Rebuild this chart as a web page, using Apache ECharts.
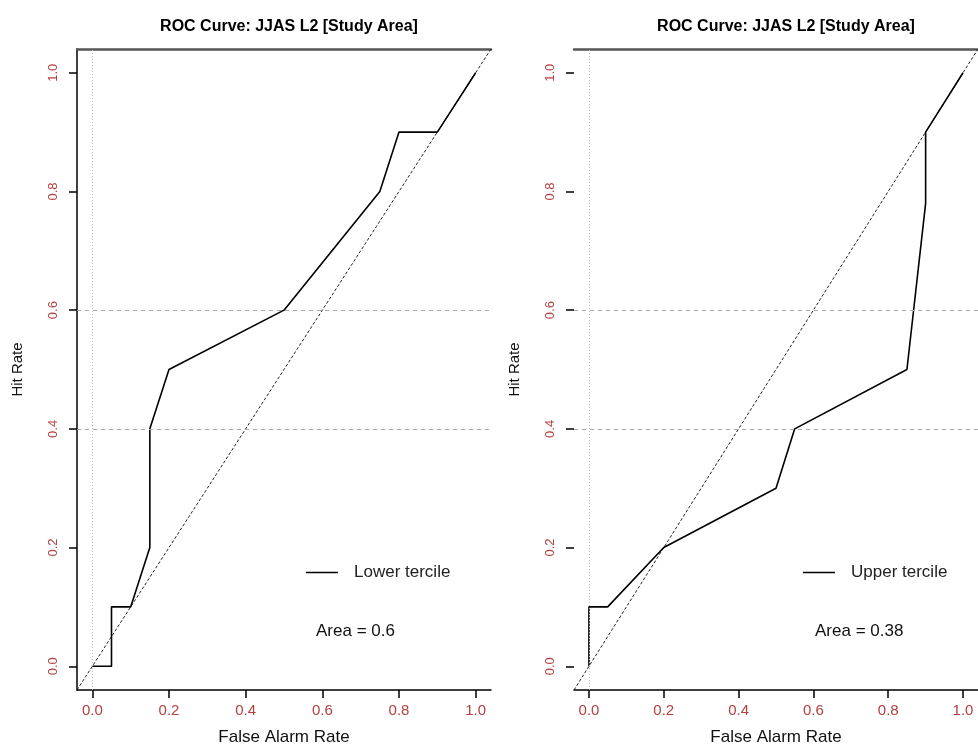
<!DOCTYPE html>
<html>
<head>
<meta charset="utf-8">
<script src="https://cdn.jsdelivr.net/npm/echarts@6/dist/echarts.min.js"></script>
<style>
html,body{margin:0;padding:0;background:#fff;}
#chart{width:978px;height:751px;}
</style>
</head>
<body>
<div id="chart"></div>
<script>
// ---- data ----
const chartTitle = 'ROC Curve: JJAS L2 [Study Area]';
const xName = 'False Alarm Rate';
const yName = 'Hit Rate';
const tickValues = [0, 0.2, 0.4, 0.6, 0.8, 1.0];
const tickLabels = ['0.0', '0.2', '0.4', '0.6', '0.8', '1.0'];
const axisRange = [-0.04, 1.04];
const diagonal = [-0.04, 1.04];
const refLinesX = [0];
const refLinesY = [0.4, 0.6];

const lowerName = 'Lower tercile';
const lowerFAR = [0, 0.05, 0.05, 0.1, 0.15, 0.15, 0.2, 0.5, 0.75, 0.8, 0.9, 1.0];
const lowerHit = [0, 0, 0.1, 0.1, 0.2, 0.4, 0.5, 0.6, 0.8, 0.9, 0.9, 1.0];
const lowerArea = 0.6;

const upperName = 'Upper tercile';
const upperFAR = [0, 0, 0.05, 0.2, 0.5, 0.55, 0.85, 0.9, 0.9, 1.0];
const upperHit = [0, 0.1, 0.1, 0.2, 0.3, 0.4, 0.5, 0.78, 0.9, 1.0];
const upperArea = 0.38;

// ---- chart ----
const FONT = "'Liberation Sans', Arial, sans-serif";
const RED = '#B5403F';
const chart = echarts.init(document.getElementById('chart'), null, {renderer: 'canvas'});
const fmt = v => { const i = tickValues.findIndex(t => Math.abs(t - v) < 1e-9); return i >= 0 ? tickLabels[i] : ''; };
const zip = (a, b) => a.map((v, i) => [v, b[i]]);

function xAxisFor(g) {
  return {
    type: 'value', gridIndex: g, min: axisRange[0], max: axisRange[1], position: 'bottom',
    name: xName, nameLocation: 'middle', nameGap: 39,
    nameTextStyle: {fontFamily: FONT, fontSize: 17, color: '#111'},
    axisLine: {show: true, onZero: false, lineStyle: {color: '#000', width: 1.5}},
    axisTick: {show: true, length: 8, customValues: tickValues, lineStyle: {color: '#000', width: 1.5}},
    axisLabel: {show: true, customValues: tickValues, formatter: fmt, margin: 13,
      fontFamily: FONT, fontSize: 15, color: RED},
    splitLine: {show: false}
  };
}
function topAxisFor(g) {
  return {
    type: 'value', gridIndex: g, min: axisRange[0], max: axisRange[1], position: 'top',
    axisLine: {show: true, onZero: false, lineStyle: {color: '#555', width: 2.5}},
    axisTick: {show: false}, axisLabel: {show: false}, splitLine: {show: false}
  };
}
function yAxisFor(g, showLine) {
  return {
    type: 'value', gridIndex: g, min: axisRange[0], max: axisRange[1],
    name: yName, nameLocation: 'middle', nameGap: 52,
    nameTextStyle: {fontFamily: FONT, fontSize: 15, color: '#111'},
    axisLine: {show: showLine, onZero: false, lineStyle: {color: '#000', width: 1.5}},
    axisTick: {show: true, length: 8, customValues: tickValues, lineStyle: {color: '#000', width: 1.5}},
    axisLabel: {show: true, customValues: tickValues, formatter: fmt, rotate: 90, margin: 17,
      fontFamily: FONT, fontSize: 13, color: RED},
    splitLine: {show: false}
  };
}
function diagSeries(xi, yi) {
  return {
    type: 'line', name: 'diag', xAxisIndex: xi, yAxisIndex: yi, silent: true, z: 1,
    symbol: 'none', data: [[diagonal[0], diagonal[0]], [diagonal[1], diagonal[1]]],
    lineStyle: {color: '#222', width: 1, type: [3, 2]},
    markLine: {
      silent: true, symbol: 'none', label: {show: false}, animation: false,
      data: refLinesX.map(v => ({xAxis: v, lineStyle: {type: [1, 2], color: '#bbb', width: 1}}))
        .concat(refLinesY.map(v => ({yAxis: v, lineStyle: {type: [4, 4], color: '#aaa', width: 1}})))
    }
  };
}
function curveSeries(name, xs, ys, xi, yi) {
  return {
    type: 'line', name: name, xAxisIndex: xi, yAxisIndex: yi, z: 3,
    symbol: 'none', showSymbol: false, data: zip(xs, ys),
    lineStyle: {color: '#000', width: 1.6}, itemStyle: {color: '#000'}
  };
}
function legendFor(name, left) {
  return {
    data: [{name: name, icon: 'rect'}], left: left, top: 559, itemWidth: 32, itemHeight: 1.5,
    selectedMode: false, itemStyle: {color: '#000', borderWidth: 0},
    textStyle: {fontFamily: FONT, fontSize: 17, color: '#222', padding: [0, 0, 0, 11]}
  };
}

const option = {
  animation: false,
  backgroundColor: '#fff',
  title: [
    {text: chartTitle, left: 284, top: 14, textAlign: 'center',
     textStyle: {fontFamily: FONT, fontSize: 16, fontWeight: 'bold', color: '#000'}},
    {text: chartTitle, left: 781, top: 14, textAlign: 'center',
     textStyle: {fontFamily: FONT, fontSize: 16, fontWeight: 'bold', color: '#000'}}
  ],
  grid: [
    {left: 77, top: 49, width: 414, height: 648},
    {left: 574, top: 49, width: 414, height: 648}
  ],
  xAxis: [xAxisFor(0), xAxisFor(1), topAxisFor(0), topAxisFor(1)],
  yAxis: [yAxisFor(0, true), yAxisFor(1, false)],
  legend: [legendFor(lowerName, 301), legendFor(upperName, 798)],
  graphic: [
    {type: 'text', left: 316, top: 623, style: {text: 'Area = ' + lowerArea, font: '17px ' + FONT, fill: '#111'}},
    {type: 'text', left: 815, top: 623, style: {text: 'Area = ' + upperArea, font: '17px ' + FONT, fill: '#111'}}
  ],
  series: [
    diagSeries(0, 0),
    curveSeries(lowerName, lowerFAR, lowerHit, 0, 0),
    diagSeries(1, 1),
    curveSeries(upperName, upperFAR, upperHit, 1, 1)
  ]
};
chart.setOption(option);
</script>
</body>
</html>
